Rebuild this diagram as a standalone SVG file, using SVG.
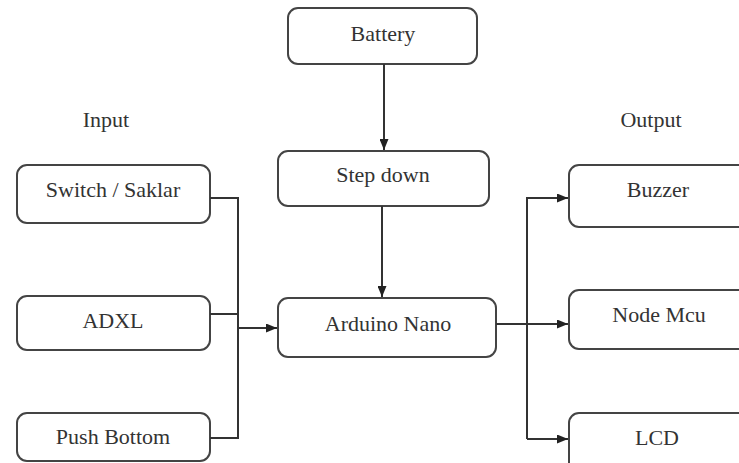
<svg xmlns="http://www.w3.org/2000/svg" width="739" height="463" viewBox="0 0 739 463">
<style>
.box{fill:#fff;stroke:#444;stroke-width:2}
.t{font-family:Tinos,'Liberation Serif',Times,serif;font-size:22px;fill:#333;text-anchor:middle}
.c{fill:none;stroke:#333;stroke-width:2}
</style>
<defs>
<marker id="ah" markerWidth="11" markerHeight="9" refX="11" refY="4.5" orient="auto" markerUnits="userSpaceOnUse">
<path d="M0,0 L11,4.5 L0,9 Z" fill="#222"/>
</marker>
</defs>
<rect width="739" height="463" fill="#fff"/>
<text class="t" x="106" y="127">Input</text>
<text class="t" x="651" y="127">Output</text>
<g id="battery"><rect class="box" x="288" y="8" width="189" height="56" rx="10"/><text class="t" x="383" y="41">Battery</text></g>
<g id="stepdown"><rect class="box" x="278" y="151" width="211" height="55" rx="10"/><text class="t" x="383" y="182">Step down</text></g>
<g id="arduino"><rect class="box" x="278" y="298" width="218" height="59" rx="10"/><text class="t" x="388" y="331">Arduino Nano</text></g>
<g id="switch"><rect class="box" x="17" y="165" width="193" height="58" rx="10"/><text class="t" x="113" y="197">Switch / Saklar</text></g>
<g id="adxl"><rect class="box" x="17" y="296" width="193" height="54" rx="10"/><text class="t" x="113" y="328">ADXL</text></g>
<g id="push"><rect class="box" x="17" y="413" width="193" height="48" rx="10"/><text class="t" x="113" y="444">Push Bottom</text></g>
<g id="buzzer"><rect class="box" x="569" y="165" width="200" height="62" rx="10"/><text class="t" x="658" y="197">Buzzer</text></g>
<g id="nodemcu"><rect class="box" x="569" y="290" width="200" height="59" rx="10"/><text class="t" x="659" y="322">Node Mcu</text></g>
<g id="lcd"><rect class="box" x="569" y="413" width="200" height="60" rx="10"/><text class="t" x="657" y="445">LCD</text></g>
<g id="connectors">
<path class="c" d="M384,64 V150" marker-end="url(#ah)"/>
<path class="c" d="M382,206 V297" marker-end="url(#ah)"/>
<path class="c" d="M210,198 H238 V438 H210 M210,314 H238"/>
<path class="c" d="M238,328 H277" marker-end="url(#ah)"/>
<path class="c" d="M496,324 H568" marker-end="url(#ah)"/>
<path class="c" d="M527,439 V198 H568" marker-end="url(#ah)"/>
<path class="c" d="M527,439 H568" marker-end="url(#ah)"/>
</g>
</svg>
